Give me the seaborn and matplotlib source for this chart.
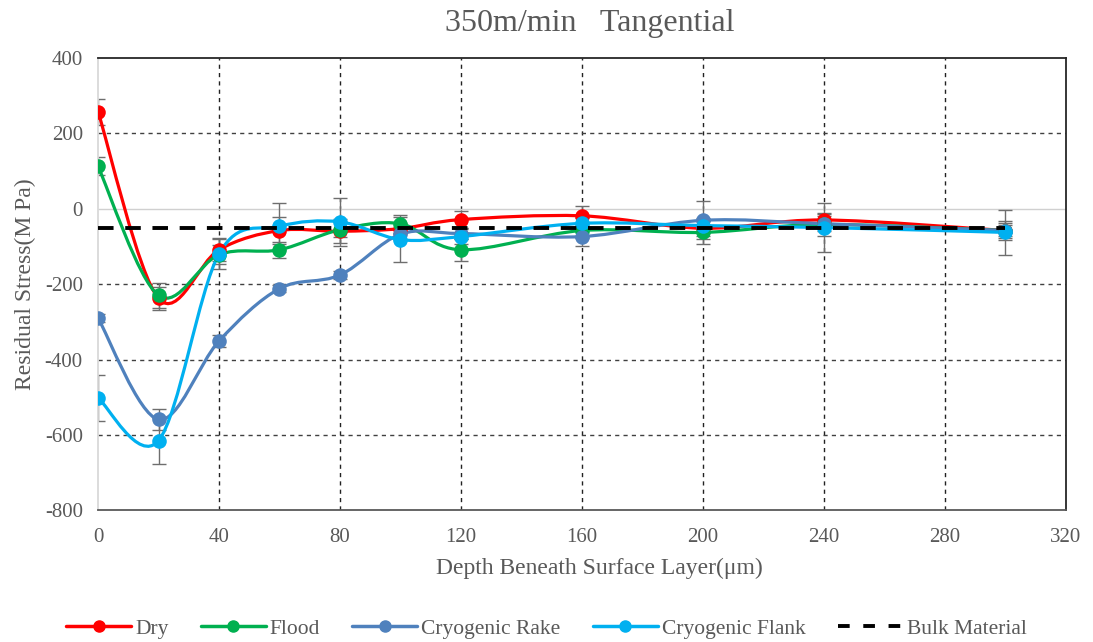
import numpy as np
import pandas as pd
import seaborn as sns
import matplotlib.pyplot as plt
from matplotlib.path import Path
from matplotlib.patches import PathPatch
from matplotlib.lines import Line2D

# Data
depth = [0, 20, 40, 60, 80, 100, 120, 160, 200, 240, 300]
dry = [257, -238, -109, -58, -60, -53, -29, -19, -52, -30, -58]
flood = [112, -230, -122, -109, -56, -40, -109, -58, -63, -42, -58]
cryo_rake = [-290, -559, -351, -212, -176, -68, -66, -74, -31, -40, -58]
cryo_flank = [-502, -615, -120, -47, -35, -82, -74, -39, -45, -50, -63]
bulk = [-50, -50, -50, -50, -50, -50, -50, -50, -50, -50, -50]

dry_err = [35, 30, 30, 35, 32, 15, 22, 25, 20, 15, 25]
flood_err = [24, 34, 25, 21, 20, 24, 29, 20, 30, 30, 15]
rake_err = [10, 29, 15, 10, 10, 15, 15, 25, 50, 20, 20]
flank_err = [61, 61, 40, 63, 63, 60, 20, 15, 20, 65, 60]

series = {
    'Dry': (dry, dry_err, '#FF0000'),
    'Flood': (flood, flood_err, '#00B050'),
    'Cryogenic Rake': (cryo_rake, rake_err, '#4F81BD'),
    'Cryogenic Flank': (cryo_flank, flank_err, '#00B0F0'),
}

sns.set_theme(style='white')
plt.rcParams['font.family'] = ['Liberation Serif', 'DejaVu Serif']
plt.rcParams['axes.unicode_minus'] = False


def smooth_path(x, y):
    # Excel-style smoothed line as cubic bezier segments
    x = np.asarray(x, float)
    y = np.asarray(y, float)
    verts = [(x[0], y[0])]
    codes = [Path.MOVETO]
    n = len(x)
    for i in range(n - 1):
        i0 = max(i - 1, 0)
        i3 = min(i + 2, n - 1)
        c1 = (x[i] + (x[i + 1] - x[i0]) / 6, y[i] + (y[i + 1] - y[i0]) / 6)
        c2 = (x[i + 1] - (x[i3] - x[i]) / 6, y[i + 1] - (y[i3] - y[i]) / 6)
        verts += [c1, c2, (x[i + 1], y[i + 1])]
        codes += [Path.CURVE4] * 3
    return Path(verts, codes)


fig = plt.figure(figsize=(10.93, 6.42), dpi=100)
ax = fig.add_axes([0.0897, 0.205, 0.8853, 0.705])

# gridlines
for xv in range(40, 320, 40):
    ax.axvline(xv, color='#222222', ls=(0, (3, 3)), lw=1.0, zorder=0)
for yv in [200, -200, -400, -600]:
    ax.axhline(yv, color='#404040', ls=(0, (3, 3)), lw=1.0, zorder=0)
ax.axhline(0, color='#D0D0D0', lw=1.0, zorder=0)

handles = []
for name, (vals, err, col) in series.items():
    ax.errorbar(depth, vals, yerr=err, fmt='none', ecolor='#6E6E6E',
                elinewidth=1.0, capsize=5, capthick=1.0, zorder=2)
    ax.add_patch(PathPatch(smooth_path(depth, vals), facecolor='none',
                           edgecolor=col, lw=2.3, zorder=3))
    df = pd.DataFrame({'depth': depth, 'stress': vals})
    sns.scatterplot(data=df, x='depth', y='stress', color=col, s=110,
                    edgecolor=col, linewidth=0, ax=ax, zorder=4)
    handles.append(Line2D([], [], color=col, lw=2.5, marker='o', ms=8,
                          label=name))

df_bulk = pd.DataFrame({'depth': depth, 'stress': bulk})
sns.lineplot(data=df_bulk, x='depth', y='stress', color='black', lw=2.8,
             ax=ax, zorder=5)
ax.lines[-1].set_dashes([4, 3])
handles.append(Line2D([], [], color='black', lw=2.8, dashes=[3, 3.5],
                      label='Bulk Material'))

ax.set_xlim(0, 320)
ax.set_ylim(-800, 400)
ax.set_xticks(range(0, 321, 40))
ax.set_yticks(range(-800, 401, 200))
ax.tick_params(axis='both', labelsize=15, labelcolor='#595959', length=0)
ax.tick_params(axis='y', pad=11)
ax.tick_params(axis='x', pad=13)

for side, col in [('left', '#D9D9D9'), ('bottom', '#595959'),
                  ('top', '#262626'), ('right', '#262626')]:
    ax.spines[side].set_visible(True)
    ax.spines[side].set_color(col)
    ax.spines[side].set_linewidth(1.3)

ax.set_xlabel('Depth Beneath Surface Layer(μm)', fontsize=17,
              color='#595959')
ax.xaxis.set_label_coords(0.518, -0.105)
ax.set_ylabel('Residual Stress(M Pa)', fontsize=17, color='#595959',
              labelpad=6)
ax.set_title('350m/min   Tangential', fontsize=23, color='#595959',
             x=0.508, pad=19)

fig.legend(handles=handles, loc='lower center', ncol=5, frameon=False,
           fontsize=15.5, bbox_to_anchor=(0.50, -0.025), handlelength=3.0,
           columnspacing=1.5, handletextpad=0.2, labelcolor='#595959')

fig.savefig('out.png', dpi=100)
